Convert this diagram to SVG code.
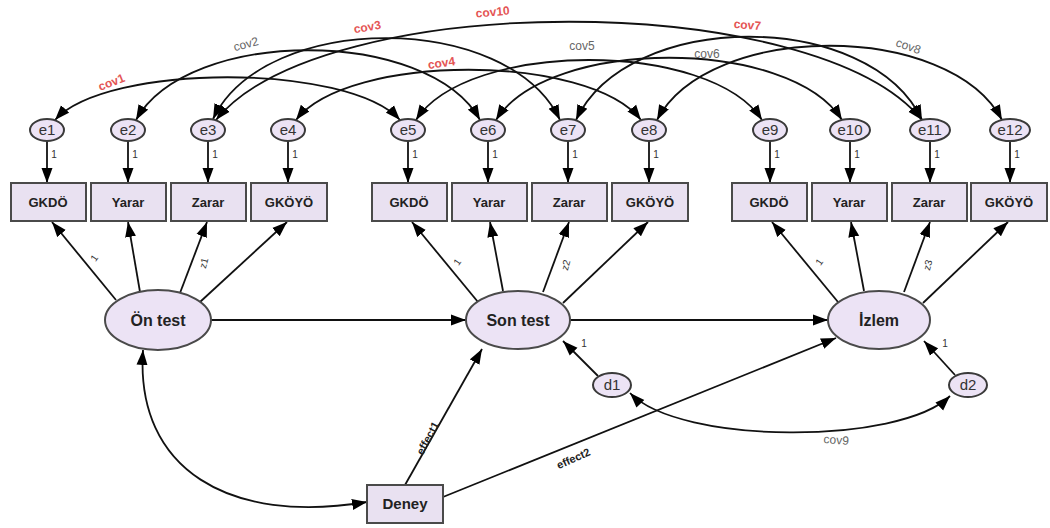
<svg xmlns="http://www.w3.org/2000/svg" width="1050" height="528" viewBox="0 0 1050 528">
<style>
.bg{fill:#ffffff}
.obs{fill:#e9e1f1;stroke:#4a4a4a;stroke-width:2}
.lat{fill:#ece3f5;stroke:#4a4a4a;stroke-width:2}
.err{fill:#ece3f5;stroke:#3a3a3a;stroke-width:2}
.ln{fill:none;stroke:#111;stroke-width:1.8;marker-end:url(#ah)}
.cv{fill:none;stroke:#111;stroke-width:1.8;marker-end:url(#ah);marker-start:url(#ah)}
.tb{font-family:"Liberation Sans",Arial,sans-serif;font-weight:bold;fill:#222;text-anchor:middle}
.te{font-family:"Liberation Sans",Arial,sans-serif;font-size:15px;fill:#333;text-anchor:middle}
.t1{font-family:"Liberation Sans",Arial,sans-serif;font-size:10px;fill:#333;text-anchor:middle}
.cg{font-family:"Liberation Sans",Arial,sans-serif;font-size:12px;fill:#666;text-anchor:middle}
.cr{font-family:"Liberation Sans",Arial,sans-serif;font-size:12px;fill:#e45555;text-anchor:middle;font-weight:bold}
</style>
<defs>
<marker id="ah" markerUnits="userSpaceOnUse" markerWidth="16" markerHeight="12" refX="15" refY="6" orient="auto-start-reverse">
<path d="M0,0.5 L15,6 L0,11.5 z" fill="#000"/>
</marker>
</defs>
<rect class="bg" x="0" y="0" width="1050" height="528"/>

<g id="connectors">
<path class="cv" d="M55,120 C107,63 348,63 400,120"/>
<path class="cv" d="M136,120 C188,27 428,27 480,120"/>
<path class="cv" d="M213,119 C265,11 508,11 560,120"/>
<path class="cv" d="M216,120 C322,-11 816,-11 922,120"/>
<path class="cv" d="M296,120 C348,53 589,53 641,120"/>
<path class="cv" d="M416,120 C468,40 710,40 762,120"/>
<path class="cv" d="M496,120 C548,37 790,37 842,120"/>
<path class="cv" d="M576,120 C628,9 870,9 922,120"/>
<path class="cv" d="M657,120 C709,21 950,21 1002,120"/>
<path class="ln" d="M47,141 L47,183"/>
<path class="ln" d="M128,141 L128,183"/>
<path class="ln" d="M208,141 L208,183"/>
<path class="ln" d="M288,141 L288,183"/>
<path class="ln" d="M408,141 L408,183"/>
<path class="ln" d="M488,141 L488,183"/>
<path class="ln" d="M568,141 L568,183"/>
<path class="ln" d="M649,141 L649,183"/>
<path class="ln" d="M770,141 L770,183"/>
<path class="ln" d="M850,141 L850,183"/>
<path class="ln" d="M930,141 L930,183"/>
<path class="ln" d="M1010,141 L1010,183"/>
<path class="ln" d="M116,300 L52,222"/>
<path class="ln" d="M140,292 L128,222"/>
<path class="ln" d="M180,293 L207,222"/>
<path class="ln" d="M200,302 L287,222"/>
<path class="ln" d="M478,302 L412,222"/>
<path class="ln" d="M503,291 L490,222"/>
<path class="ln" d="M543,292 L569,222"/>
<path class="ln" d="M563,303 L648,222"/>
<path class="ln" d="M838,302 L772,222"/>
<path class="ln" d="M864,291 L851,222"/>
<path class="ln" d="M904,292 L930,222"/>
<path class="ln" d="M923,303 L1008,222"/>
<path class="ln" d="M211,320 L466,320"/>
<path class="ln" d="M570,320 L828,320"/>
<path class="ln" d="M405,485 L482,349"/>
<path class="ln" d="M443,497 L836,338"/>
<path class="ln" d="M598,376 L563,341"/>
<path class="ln" d="M955,375 L924,341"/>
<path class="cv" d="M630,393 C680,445 900,445 950,396"/>
<path class="cv" d="M143,350 C135,470 230,525 367,502"/>
<text class="cr" transform="translate(113,86) rotate(-22)">cov1</text>
<text class="cg" transform="translate(247,48) rotate(-15)">cov2</text>
<text class="cr" transform="translate(368,31) rotate(-10)">cov3</text>
<text class="cr" transform="translate(493,16) rotate(-5)">cov10</text>
<text class="cr" transform="translate(442,67) rotate(-8)">cov4</text>
<text class="cg" transform="translate(582,50)">cov5</text>
<text class="cg" transform="translate(707,58)">cov6</text>
<text class="cr" transform="translate(747,29) rotate(5)">cov7</text>
<text class="cg" transform="translate(907,50) rotate(20)">cov8</text>
<text class="cg" transform="translate(836,444) rotate(4)">cov9</text>
<g class="t1">
<text x="54" y="158">1</text><text x="135" y="158">1</text><text x="215" y="158">1</text><text x="295" y="158">1</text>
<text x="415" y="158">1</text><text x="495" y="158">1</text><text x="575" y="158">1</text><text x="656" y="158">1</text>
<text x="777" y="158">1</text><text x="857" y="158">1</text><text x="937" y="158">1</text><text x="1017" y="158">1</text>
</g>
<text class="t1" transform="translate(97,260) rotate(-55)">1</text>
<text class="t1" transform="translate(207,264) rotate(-75)">z1</text>
<text class="t1" transform="translate(460,264) rotate(-55)">1</text>
<text class="t1" transform="translate(569,266) rotate(-75)">z2</text>
<text class="t1" transform="translate(822,264) rotate(-55)">1</text>
<text class="t1" transform="translate(931,266) rotate(-75)">z3</text>
<text class="t1" x="584" y="347">1</text>
<text class="t1" x="945" y="347">1</text>
<text class="tb" font-size="11" transform="translate(431,440) rotate(-62)">effect1</text>
<text class="tb" font-size="11" transform="translate(575,462) rotate(-24)">effect2</text>
</g>

<g id="e1"><ellipse class="err" cx="47" cy="130" rx="17" ry="11"/><text class="te" x="47" y="135">e1</text></g>
<g id="e2"><ellipse class="err" cx="128" cy="130" rx="17" ry="11"/><text class="te" x="128" y="135">e2</text></g>
<g id="e3"><ellipse class="err" cx="208" cy="130" rx="17" ry="11"/><text class="te" x="208" y="135">e3</text></g>
<g id="e4"><ellipse class="err" cx="288" cy="130" rx="17" ry="11"/><text class="te" x="288" y="135">e4</text></g>
<g id="e5"><ellipse class="err" cx="408" cy="130" rx="17" ry="11"/><text class="te" x="408" y="135">e5</text></g>
<g id="e6"><ellipse class="err" cx="488" cy="130" rx="17" ry="11"/><text class="te" x="488" y="135">e6</text></g>
<g id="e7"><ellipse class="err" cx="568" cy="130" rx="17" ry="11"/><text class="te" x="568" y="135">e7</text></g>
<g id="e8"><ellipse class="err" cx="649" cy="130" rx="17" ry="11"/><text class="te" x="649" y="135">e8</text></g>
<g id="e9"><ellipse class="err" cx="770" cy="130" rx="17" ry="11"/><text class="te" x="770" y="135">e9</text></g>
<g id="e10"><ellipse class="err" cx="850" cy="130" rx="20" ry="11"/><text class="te" x="850" y="135">e10</text></g>
<g id="e11"><ellipse class="err" cx="930" cy="130" rx="20" ry="11"/><text class="te" x="930" y="135">e11</text></g>
<g id="e12"><ellipse class="err" cx="1010" cy="130" rx="20" ry="11"/><text class="te" x="1010" y="135">e12</text></g>

<g id="x1"><rect class="obs" x="11" y="183" width="75" height="38"/><text class="tb" font-size="13" x="48" y="207">GKDÖ</text></g>
<g id="x2"><rect class="obs" x="91" y="183" width="75" height="38"/><text class="tb" font-size="13" x="128" y="207">Yarar</text></g>
<g id="x3"><rect class="obs" x="171" y="183" width="75" height="38"/><text class="tb" font-size="13" x="208" y="207">Zarar</text></g>
<g id="x4"><rect class="obs" x="251" y="183" width="76" height="38"/><text class="tb" font-size="13" x="289" y="207">GKÖYÖ</text></g>
<g id="x5"><rect class="obs" x="372" y="183" width="75" height="38"/><text class="tb" font-size="13" x="409" y="207">GKDÖ</text></g>
<g id="x6"><rect class="obs" x="452" y="183" width="75" height="38"/><text class="tb" font-size="13" x="489" y="207">Yarar</text></g>
<g id="x7"><rect class="obs" x="532" y="183" width="75" height="38"/><text class="tb" font-size="13" x="569" y="207">Zarar</text></g>
<g id="x8"><rect class="obs" x="612" y="183" width="76" height="38"/><text class="tb" font-size="13" x="650" y="207">GKÖYÖ</text></g>
<g id="x9"><rect class="obs" x="732" y="183" width="75" height="38"/><text class="tb" font-size="13" x="769" y="207">GKDÖ</text></g>
<g id="x10"><rect class="obs" x="812" y="183" width="75" height="38"/><text class="tb" font-size="13" x="849" y="207">Yarar</text></g>
<g id="x11"><rect class="obs" x="892" y="183" width="75" height="38"/><text class="tb" font-size="13" x="929" y="207">Zarar</text></g>
<g id="x12"><rect class="obs" x="971" y="183" width="76" height="38"/><text class="tb" font-size="13" x="1009" y="207">GKÖYÖ</text></g>

<g id="ontest"><ellipse class="lat" cx="158" cy="320" rx="53" ry="30"/><text class="tb" font-size="16" x="158" y="326">Ön test</text></g>
<g id="sontest"><ellipse class="lat" cx="518" cy="320" rx="52" ry="29"/><text class="tb" font-size="16" x="518" y="326">Son test</text></g>
<g id="izlem"><ellipse class="lat" cx="879" cy="320" rx="51" ry="29"/><text class="tb" font-size="16" x="879" y="326">İzlem</text></g>
<g id="d1"><ellipse class="err" cx="612" cy="385" rx="19" ry="12"/><text class="te" x="612" y="390">d1</text></g>
<g id="d2"><ellipse class="err" cx="968" cy="385" rx="19" ry="12"/><text class="te" x="968" y="390">d2</text></g>
<g id="deney"><rect class="obs" x="367" y="485" width="76" height="38"/><text class="tb" font-size="15" x="405" y="509">Deney</text></g>
</svg>
